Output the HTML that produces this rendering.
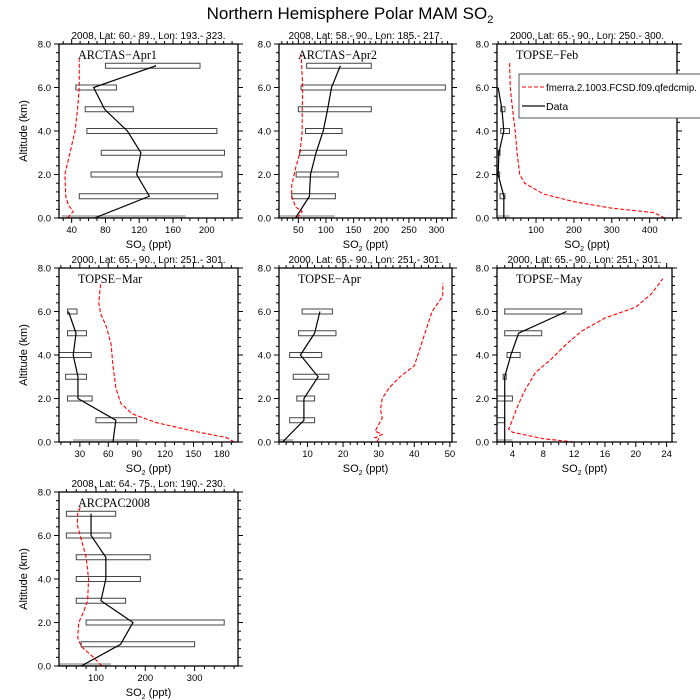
<!DOCTYPE html>
<html><head><meta charset="utf-8"><style>
html,body{margin:0;padding:0;background:#fff}
svg{display:block;font-family:"Liberation Sans",Arial,sans-serif}
</style></head><body>
<svg id="s" width="700" height="700" viewBox="0 0 700 700" xmlns="http://www.w3.org/2000/svg">
<text x="350" y="19" font-size="17" text-anchor="middle">Northern Hemisphere Polar MAM SO<tspan font-size="11" dy="4">2</tspan></text>
</svg>
<script>
const S=document.getElementById('s');let h='';
const P=[
{x0:59,x1:238,y0:44,y1:218,r:[25,237],t:[40,80,120,160,200],mt:10,yl:1,title:"2008, Lat:  60.- 89., Lon: 193.- 323.",name:"ARCTAS\u2212Apr1",
bars:[[28,175],[49,213],[63,218],[75,221],[58,212],[56,113],[45,93],[80,192]],
line:[[67,0],[132,1],[117,2],[122,3],[106,4],[79,5],[66,6],[140,7]],
red:[[35,0],[42,0.3],[36,0.6],[33,1],[32,2],[38,3],[44,4],[47,5],[49,6],[49,7.3]]},
{x0:279,x1:452,y0:44,y1:218,r:[15,328],t:[50,100,150,200,250,300],mt:10,title:"2008, Lat:  58.- 90., Lon: 185.- 217.",name:"ARCTAS\u2212Apr2",
bars:[[15,116],[38,117],[46,122],[52,137],[63,129],[50,182],[55,316],[65,182]],
line:[[45,0],[70,1],[72,2],[82,3],[95,4],[103,5],[110,6],[126,7]],
red:[[48,0],[57,0.3],[45,0.5],[38,1],[38,1.5],[45,2.3],[53,3],[57,4],[57,5],[58,6],[55,7.5]]},
{x0:497,x1:677,y0:44,y1:218,r:[-3,472],t:[100,200,300,400],mt:20,title:"2000, Lat: 65.- 90., Lon: 250.- 300.",name:"TOPSE\u2212Feb",
bars:[[0,30],[5,18],[0,4],[0,5],[7,30],[7,18]],
line:[[15,0],[15,1],[0,2],[2,3],[15,4],[10,5],[0,6]],
red:[[440,0],[410,0.25],[300,0.45],[200,0.75],[120,1.1],[70,1.6],[57,2],[50,3],[45,4],[38,5],[32,6],[30,7.2]],legend:1},
{x0:59,x1:238,y0:268,y1:442,r:[8,197],t:[30,60,90,120,150,180],mt:10,yl:1,title:"2000, Lat: 65.- 90., Lon: 251.- 301.",name:"TOPSE\u2212Mar",
bars:[[23,93],[47,90],[17,43],[15,37],[8,42],[17,37],[17,27]],
line:[[65,0],[68,1],[28,2],[28,3],[23,4],[26,5],[18,6]],
red:[[193,0],[185,0.2],[150,0.5],[110,0.9],[85,1.3],[73,1.8],[68,2.5],[65,3.5],[63,4.5],[58,5.3],[52,5.9],[50,6.4],[52,7.3]]},
{x0:279,x1:452,y0:268,y1:442,r:[2,50.6],t:[10,20,30,40,50],mt:2,title:"2000, Lat: 65.- 90., Lon: 251.- 301.",name:"TOPSE\u2212Apr",
bars:[[2,6],[5,12],[7,12],[6,16],[5,14],[7.5,18],[8.5,17]],
line:[[3,0],[9,1],[9,2],[13,3],[8,4],[12,5],[13.5,6]],
red:[[29.5,0],[30,0.15],[29,0.2],[31,0.35],[29,0.5],[30,0.8],[31,1.1],[30.5,1.5],[31,2],[33,2.5],[36,3],[40,3.5],[41,4],[43,5],[44,5.5],[45,6],[48,6.7],[48,7.3]]},
{x0:497,x1:672,y0:268,y1:442,r:[2,24.7],t:[4,8,12,16,20,24],mt:1,title:"2000, Lat: 65.- 90., Lon: 251.- 301.",name:"TOPSE\u2212May",
bars:[[2,4],[2,3],[2,4],[2.8,3.2],[3.3,5],[3,7.8],[3,13]],
line:[[3,0],[3,1],[3,2],[3,3],[3.8,4],[4.8,5],[11,6]],
red:[[12,0],[8,0.15],[6,0.3],[4,0.45],[3.5,0.6],[4,1],[4.5,1.5],[5.5,2.3],[7,3.2],[9,3.8],[11,4.5],[13,5.1],[16,5.7],[20,6.2],[22,6.8],[23.5,7.5]]},
{x0:59,x1:238,y0:492,y1:666,r:[25,388],t:[100,200,300],mt:20,yl:1,title:"2008, Lat: 64.- 75., Lon: 190.- 230.",name:"ARCPAC2008",
bars:[[25,130],[70,300],[80,360],[60,160],[60,190],[60,210],[40,130],[40,140]],
line:[[70,0],[150,1],[175,2],[110,3],[120,4],[120,5],[90,6],[90,7]],
red:[[112,0],[95,0.4],[70,0.9],[63,1.3],[65,2],[75,2.5],[83,3],[85,4],[80,5],[68,6],[62,6.5],[63,7],[70,7.4]]}
];
P.forEach((p,i)=>{
 const X=v=>p.x0+(v-p.r[0])/(p.r[1]-p.r[0])*(p.x1-p.x0);
 const Y=a=>p.y1-a/8*(p.y1-p.y0);
 const cx=(p.x0+p.x1)/2;
 h+=`<defs><clipPath id="c${i}"><rect x="${p.x0}" y="${p.y0}" width="${p.x1-p.x0}" height="${p.y1-p.y0}"/></clipPath></defs>`;
 h+=`<text x="${cx}" y="${p.y0-5}" font-size="10" text-anchor="middle">${p.title}</text>`;
 p.bars.forEach((b,k)=>{const y=Y(k)-2.5;
  if(k==0) h+=`<rect x="${X(b[0])}" y="${Y(0)-3}" width="${X(b[1])-X(b[0])}" height="3" fill="#bbb" clip-path="url(#c${i})"/>`;
  else h+=`<rect x="${X(b[0])}" y="${y}" width="${X(b[1])-X(b[0])}" height="5" fill="none" stroke="#444" stroke-width="1" clip-path="url(#c${i})"/>`;});
 h+=`<polyline points="${p.line.map(q=>X(q[0])+','+Y(q[1])).join(' ')}" fill="none" stroke="#000" stroke-width="1.2" clip-path="url(#c${i})"/>`;
 h+=`<polyline points="${p.red.map(q=>X(q[0])+','+Y(q[1])).join(' ')}" fill="none" stroke="#f00" stroke-width="1.1" stroke-dasharray="4,2" clip-path="url(#c${i})"/>`;
 h+=`<rect x="${p.x0}" y="${p.y0}" width="${p.x1-p.x0}" height="${p.y1-p.y0}" fill="none" stroke="#000" stroke-width="1.3"/>`;
 for(let a=0;a<=8.001;a+=0.4){const y=Y(a);const maj=Math.abs(a/2-Math.round(a/2))<1e-6;const L=maj?5:3;
  h+=`<line x1="${p.x0-L}" y1="${y}" x2="${p.x0}" y2="${y}" stroke="#000"/><line x1="${p.x1}" y1="${y}" x2="${p.x1+L}" y2="${y}" stroke="#000"/>`;
  if(maj) h+=`<text x="${p.x0-8}" y="${y+3.5}" font-size="9.5" text-anchor="end">${a.toFixed(1)}</text>`;}
 const st=Math.ceil(p.r[0]/p.mt)*p.mt;
 for(let v=st;v<=p.r[1];v+=p.mt){const x=X(v);const maj=p.t.some(t=>Math.abs(t-v)<1e-6);const L=maj?5:3;
  h+=`<line x1="${x}" y1="${p.y1}" x2="${x}" y2="${p.y1+L}" stroke="#000"/><line x1="${x}" y1="${p.y0-L}" x2="${x}" y2="${p.y0}" stroke="#000"/>`;
  if(maj) h+=`<text x="${x}" y="${p.y1+15}" font-size="9.5" text-anchor="middle">${v}</text>`;}
 h+=`<text x="${cx}" y="${p.y1+30}" font-size="11" text-anchor="middle">SO<tspan font-size="7" dy="3">2</tspan><tspan dy="-3"> (ppt)</tspan></text>`;
 if(p.yl) h+=`<text transform="translate(${p.x0-32},${(p.y0+p.y1)/2}) rotate(-90)" font-size="11" text-anchor="middle">Altitude (km)</text>`;
 h+=`<text x="${p.x0+19}" y="${p.y0+15}" font-size="12.2" font-family="Liberation Serif,serif">${p.name}</text>`;
 if(p.legend){
  h+=`<rect x="519" y="74" width="190" height="44" fill="#fff" stroke="#555"/>`;
  h+=`<line x1="522" y1="87" x2="545" y2="87" stroke="#f00" stroke-dasharray="4,2" stroke-width="1.1"/><text x="546" y="91" font-size="10.5" textLength="151" lengthAdjust="spacingAndGlyphs">fmerra.2.1003.FCSD.f09.qfedcmip.</text>`;
  h+=`<line x1="522" y1="106" x2="545" y2="106" stroke="#333" stroke-width="1.5"/><text x="546" y="110" font-size="10.5">Data</text>`;
 }
});
S.insertAdjacentHTML('beforeend',h);
</script>
</body></html>
